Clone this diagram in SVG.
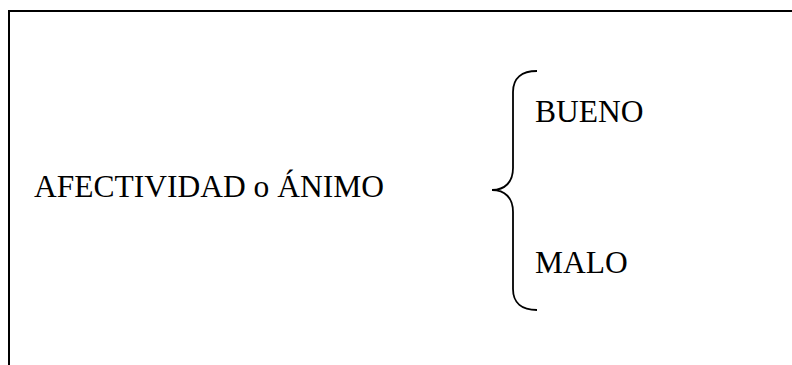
<svg xmlns="http://www.w3.org/2000/svg" width="792" height="365" viewBox="0 0 792 365">
<style>
text{font-family:'Liberation Serif', 'Times New Roman', 'DejaVu Serif', serif;font-size:31.5px;fill:#000}
.frame{fill:none;stroke:#000;stroke-width:2}
.brace{fill:none;stroke:#000;stroke-width:1.8}
</style>
<rect width="792" height="365" fill="#fff"/>
<g id="frame"><rect class="frame" x="9" y="11" width="900" height="500"/></g>
<g id="root"><text x="34" y="197" font-family="Liberation Serif, serif">AFECTIVIDAD o ÁNIMO</text></g>
<g id="connectors"><path class="brace" d="M537 71 C522 71 513 78 513 92 L513 168 C513 182 505 190 492 190 C505 190 513 198 513 212 L513 289 C513 303 522 310 537 310"/></g>
<g id="bueno"><text x="535" y="122" font-family="Liberation Serif, serif">BUENO</text></g>
<g id="malo"><text x="535" y="273" font-family="Liberation Serif, serif">MALO</text></g>
</svg>
